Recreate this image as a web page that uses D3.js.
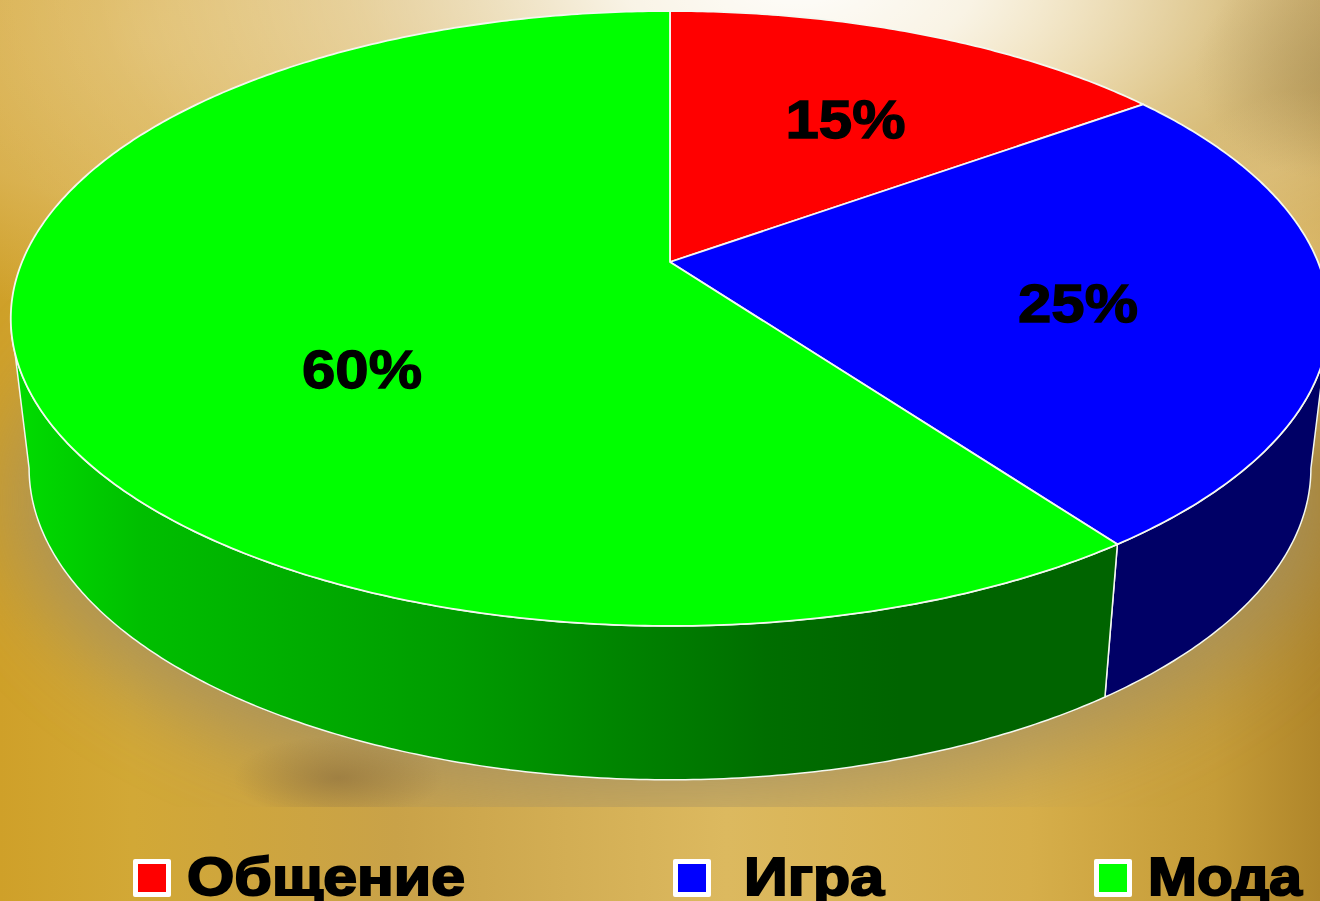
<!DOCTYPE html>
<html>
<head>
<meta charset="utf-8">
<script src="https://cdnjs.cloudflare.com/ajax/libs/d3/7.8.5/d3.min.js"></script>
<style>
  html, body { margin: 0; padding: 0; background: #dcb860; overflow: hidden; }
  svg { display: block; }
  text { font-family: "Liberation Sans", Arial, sans-serif; font-weight: 700; fill: #000; stroke: #000; }
</style>
</head>
<body>
<script>
// chart values
var categories = ["Общение", "Игра", "Мода"];
var values = [15, 25, 60];
var topColors = ["#ff0000", "#0000ff", "#00ff00"];
var sideColors = ["#660000", "#000066", "url(#greenSide)"];

var width = 1320, height = 901;

// pie seen in perspective: a flat circle pushed through these two planes
var tilt = 0.1837;
var rimTop = { cx: 670, cy: 262, rx: 648, ry: 297.1 };
var rimBottom = { cx: 670, cy: 411, rx: 630, ry: 301 };

// where the labels sit (centre x, baseline y, text width)
var pctLayout = [[845.5, 138, 120], [1078, 322, 120], [362, 388, 120]];
var legendLayout = [
    { key: 133, text: 187, length: 278 },
    { key: 673, text: 744, length: 140 },
    { key: 1094, text: 1148, length: 154 }
];

var svg = d3.select("body").append("svg")
    .attr("width", width)
    .attr("height", height);
var defs = svg.append("defs");

function linear(id, stops, x1, x2) {
    var g = defs.append("linearGradient").attr("id", id)
        .attr("gradientUnits", "userSpaceOnUse")
        .attr("x1", x1).attr("x2", x2).attr("y1", 0).attr("y2", 0);
    stops.forEach(function(s) {
        g.append("stop").attr("offset", s[0]).attr("stop-color", s[1]);
    });
}
function radial(id, color, stops) {
    var g = defs.append("radialGradient").attr("id", id);
    stops.forEach(function(s) {
        g.append("stop").attr("offset", s[0])
            .attr("stop-color", color).attr("stop-opacity", s[1]);
    });
}

linear("paper", [[0, "#cfa029"], [0.1, "#d2a836"], [0.3, "#c9a248"], [0.55, "#dcb95f"],
    [0.78, "#d6ae4a"], [0.92, "#c59c38"], [1, "#b0862a"]], 0, width);
linear("greenSide", [[0, "#00de00"], [0.15, "#00be00"], [0.5, "#009c00"],
    [0.85, "#006e00"], [1, "#006400"]], 10, 900);
radial("glow", "#ffffff", [[0, 0.98], [0.2, 0.85], [0.5, 0.4], [0.8, 0.1], [1, 0]]);
radial("warm", "#e0bc68", [[0, 0.85], [0.6, 0.6], [1, 0]]);
radial("tan", "#a89058", [[0, 0.48], [1, 0]]);
radial("brown", "#8c6e3c", [[0, 0.62], [1, 0]]);

defs.append("filter").attr("id", "blur")
    .attr("x", "-25%").attr("y", "-25%").attr("width", "150%").attr("height", "150%")
  .append("feGaussianBlur").attr("stdDeviation", 42);
defs.append("clipPath").attr("id", "aboveFloor")
  .append("rect").attr("width", width).attr("height", 807);

/*
** Background
*/
var bg = svg.append("g").attr("class", "background");
bg.append("rect").attr("width", width).attr("height", height).attr("fill", "url(#paper)");

// warm upper part of the sheet
bg.append("ellipse")
    .attr("cx", 150).attr("cy", 40).attr("rx", 400).attr("ry", 280)
    .attr("fill", "url(#warm)");
bg.append("ellipse")
    .attr("cx", 1300).attr("cy", 280).attr("rx", 150).attr("ry", 190)
    .attr("fill", "url(#warm)");

var floor = bg.append("g").attr("clip-path", "url(#aboveFloor)");
floor.append("ellipse")
    .attr("cx", 670).attr("cy", 500).attr("rx", 660).attr("ry", 305)
    .attr("fill", "#a08e64").attr("opacity", 0.78)
    .attr("filter", "url(#blur)");
floor.append("ellipse")
    .attr("cx", 338).attr("cy", 778).attr("rx", 105).attr("ry", 42)
    .attr("fill", "url(#brown)");

bg.append("ellipse")
    .attr("cx", 800).attr("cy", -20).attr("rx", 880).attr("ry", 440)
    .attr("fill", "url(#glow)");
bg.append("ellipse")
    .attr("cx", 1335).attr("cy", 70).attr("rx", 140).attr("ry", 110)
    .attr("fill", "url(#tan)");

/*
** Pie
*/
var pie = d3.pie().sort(null).value(function(d) { return d; })(values);

var depth = d3.scaleLinear().domain([-1, 1]);
var across = d3.scaleLinear().domain([-1, 1]);

function project(rim, angle, r) {
    var u = Math.sin(angle) * r,
        t = -Math.cos(angle) * r,
        w = 1 - tilt * t;
    across.range([rim.cx - rim.rx, rim.cx + rim.rx]);
    depth.range([rim.cy - rim.ry, rim.cy + rim.ry]);
    return [across(u / w), depth(t / w)];
}

function arcPoints(rim, a0, a1) {
    var n = Math.max(2, Math.ceil((a1 - a0) / 0.01));
    return d3.range(n + 1).map(function(i) {
        return project(rim, a0 + (a1 - a0) * i / n, 1);
    });
}

var line = d3.line();

// outline turns away from us where the rim's tangent is vertical
var sideStart = Math.acos(-tilt),
    sideEnd = 2 * Math.PI - sideStart;

var sides = pie.map(function(d) {
    return {
        index: d.index,
        a0: Math.max(d.startAngle, sideStart),
        a1: Math.min(d.endAngle, sideEnd)
    };
}).filter(function(d) { return d.a1 > d.a0; });

var pieG = svg.append("g").attr("class", "pie");

pieG.selectAll("path.side").data(sides)
  .enter().append("path")
    .attr("class", "side")
    .attr("d", function(d) {
        return line(arcPoints(rimTop, d.a0, d.a1)
            .concat(arcPoints(rimBottom, d.a0, d.a1).reverse())) + "Z";
    })
    .attr("fill", function(d) { return sideColors[d.index]; })
    .attr("stroke", "#f4f8f0")
    .attr("stroke-width", 1.5)
    .attr("stroke-linejoin", "round");

pieG.selectAll("path.face").data(pie)
  .enter().append("path")
    .attr("class", "face")
    .attr("d", function(d) {
        return line([[rimTop.cx, rimTop.cy]]
            .concat(arcPoints(rimTop, d.startAngle, d.endAngle))) + "Z";
    })
    .attr("fill", function(d, i) { return topColors[i]; })
    .attr("stroke", "#f4f8f0")
    .attr("stroke-width", 1.8)
    .attr("stroke-linejoin", "round");

svg.append("g").attr("class", "percent").selectAll("text").data(values)
  .enter().append("text")
    .attr("x", function(d, i) { return pctLayout[i][0]; })
    .attr("y", function(d, i) { return pctLayout[i][1]; })
    .attr("text-anchor", "middle")
    .attr("font-size", 54)
    .attr("stroke-width", 1.3)
    .attr("textLength", function(d, i) { return pctLayout[i][2]; })
    .attr("lengthAdjust", "spacingAndGlyphs")
    .text(function(d) { return d + "%"; });

/*
** Legend
*/
var legend = svg.append("g").attr("class", "legend").selectAll("g").data(categories)
  .enter().append("g");

legend.append("rect")
    .attr("x", function(d, i) { return legendLayout[i].key; })
    .attr("y", 859)
    .attr("width", 38)
    .attr("height", 38)
    .attr("rx", 2)
    .attr("fill", "#fff");
legend.append("rect")
    .attr("x", function(d, i) { return legendLayout[i].key + 5; })
    .attr("y", 864)
    .attr("width", 28)
    .attr("height", 28)
    .attr("fill", function(d, i) { return topColors[i]; });
legend.append("text")
    .attr("x", function(d, i) { return legendLayout[i].text; })
    .attr("y", 895)
    .attr("font-size", 54)
    .attr("stroke-width", 2)
    .attr("textLength", function(d, i) { return legendLayout[i].length; })
    .attr("lengthAdjust", "spacingAndGlyphs")
    .text(function(d) { return d; });
</script>
</body>
</html>
